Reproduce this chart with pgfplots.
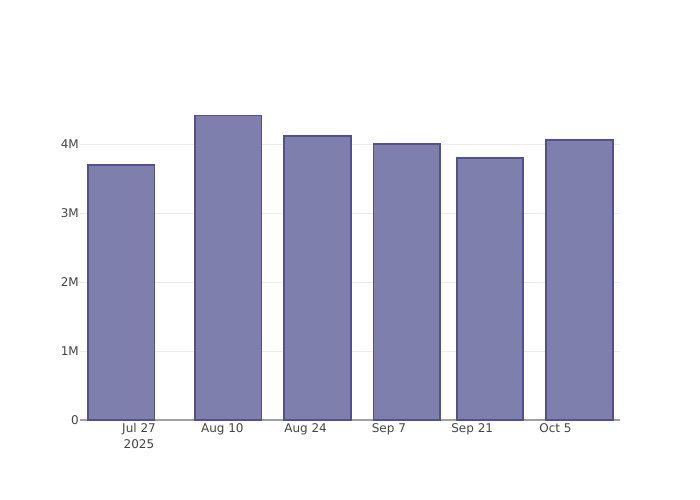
\documentclass[border=0pt]{standalone}
\usepackage{pgfplots}
\pgfplotsset{compat=1.18}
\usepackage{fontspec}
\setmainfont{DejaVu Sans}
\definecolor{barfill}{RGB}{127,127,174}
\definecolor{baredge}{RGB}{82,80,148}
\definecolor{gridc}{RGB}{236,236,236}
\definecolor{axc}{RGB}{160,160,160}
\definecolor{txt}{RGB}{68,68,68}
\begin{document}
\begin{tikzpicture}
\begin{axis}[
  at={(0,0)}, anchor=south west,
  scale only axis, width=540bp, height=320bp,
  xmin=-9.916, xmax=80.84, ymin=0, ymax=4.644e6,
  axis x line=bottom, axis y line=left,
  x axis line style={-, draw=axc, line width=1.5bp},
  y axis line style={draw=none},
  major tick length=0pt,
  ytick={0,1e6,2e6,3e6,4e6}, yticklabels={0,1M,2M,3M,4M},
  xtick={0,14,28,42,56,70},
  xticklabels={{Jul 27\\2025},Aug 10,Aug 24,Sep 7,Sep 21,Oct 5},
  xticklabel style={align=center, font=\fontsize{12bp}{16bp}\selectfont, text=txt, inner sep=0pt, yshift=-3.5bp},
  yticklabel style={font=\fontsize{12bp}{14bp}\selectfont, text=txt, inner sep=0pt, anchor=east, xshift=-1bp},
  scaled y ticks=false,
  ymajorgrids, grid style={gridc, line width=1bp},
  ybar, bar width=11.2,
  clip=false,
]
\addplot[fill=barfill, draw=baredge, line width=1.8bp] coordinates {
  (-3,3.70e6) (15,4.42e6) (30,4.125e6) (45,4.01e6) (59,3.80e6) (74,4.06e6)
};
\end{axis}
\path (-80bp,-80bp) rectangle (620bp,420bp);
\end{tikzpicture}
\end{document}
